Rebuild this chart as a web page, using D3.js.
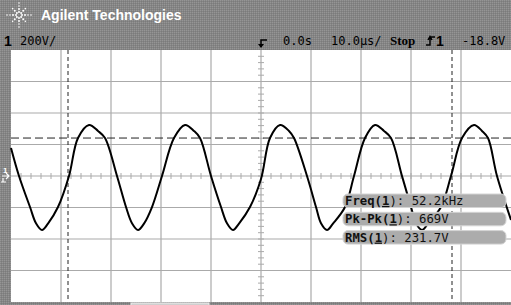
<!DOCTYPE html>
<html>
<head>
<meta charset="utf-8">
<script src="https://cdn.jsdelivr.net/npm/d3@7"></script>
<style>
body { margin: 0; background: #888; }
svg { display: block; }
.mono { font-family: "DejaVu Sans Mono", monospace; }
</style>
</head>
<body>
<div id="scope"></div>
<script>
// trace samples (time in us, volts)
const timeUs = [-50.0, -48.4, -46.2, -45.0, -43.8, -42.6, -40.6, -38.4, -36.6, -34.4, -32.6, -31.2, -28.8, -27.0, -25.8, -24.6, -23.4,
                -21.8, -19.8, -17.4, -15.2, -13.4, -12.2, -10.0, -8.0, -6.8, -5.6, -4.4,
                -2.2, 0.0, 1.8, 3.8, 5.6, 6.6, 9.2, 11.0, 12.0, 13.2, 14.4,
                16.8, 18.6, 20.8, 22.8, 24.6, 26.0, 28.2, 30.0, 31.0, 32.2, 33.4,
                36.0, 38.0, 40.2, 42.6, 44.2, 45.4, 47.2, 50.0];
const volts = [178, 0, -197, -300, -343, -302, -197, 0, 241, 324, 286, 241, 0, -197, -300, -343, -302,
               -197, 0, 241, 324, 286, 241, 0, -197, -300, -343, -302,
               -197, -19, 241, 324, 286, 241, 0, -197, -300, -343, -302,
               -197, 0, 241, 324, 286, 241, 0, -197, -300, -343, -302,
               -197, 0, 241, 324, 286, 241, 0, -279];

const gridTimes = [-40, -30, -20, -10, 10, 20, 30, 40];
const gridVolts = [-600, -400, -200, 200, 400, 600];
const cursorTimes = [-38.6, 38.2];
const cursorVolt = 241;

const measLabels = ["Freq", "Pk-Pk", "RMS"];
const measValues = ["52.2kHz", "669V", "231.7V"];

const chanScale = "200V/";
const timeDelay = "0.0s";
const timeScale = "10.0\u00b5s/";
const runState = "Stop";
const trigLevel = "-18.8V";

let W = 511, H = 305;
let plot = {left: 11, top: 50, width: 500, height: 252};

let svg = d3.select("#scope").append("svg")
    .attr("width", W)
    .attr("height", H);

// dithered grey bezel
let defs = svg.append("defs");
let pat = defs.append("pattern")
    .attr("id", "dither")
    .attr("width", 2).attr("height", 2)
    .attr("patternUnits", "userSpaceOnUse");
pat.append("rect").attr("width", 2).attr("height", 2).attr("fill", "#858585");
pat.append("rect").attr("width", 1).attr("height", 1).attr("fill", "#959595");
pat.append("rect").attr("x", 1).attr("y", 1).attr("width", 1).attr("height", 1).attr("fill", "#7b7b7b");

svg.append("rect").attr("width", W).attr("height", H).attr("fill", "url(#dither)");

// Agilent spark logo
let logo = svg.append("g").attr("transform", "translate(19,15)");
for (let a = 0; a < 8; a++) {
    let ang = a * Math.PI / 4;
    let n = (a % 2 == 0) ? [3, 6, 9, 12] : [3, 6, 9];
    n.forEach(function(r) {
        logo.append("circle")
            .attr("cx", r * Math.cos(ang))
            .attr("cy", r * Math.sin(ang))
            .attr("r", r > 8 ? 0.8 : 1)
            .attr("fill", "#fff");
    });
}

svg.append("text")
    .attr("x", 41).attr("y", 20)
    .attr("font-family", "Liberation Sans, Arial, sans-serif")
    .attr("font-weight", "bold")
    .attr("font-size", 14)
    .attr("fill", "#fff")
    .text("Agilent Technologies");

// status line
svg.append("text")
    .attr("x", 4).attr("y", 46)
    .attr("font-family", "Liberation Sans, Arial, sans-serif")
    .attr("font-weight", "bold").attr("font-size", 14)
    .text("1");
svg.append("text").attr("class", "mono")
    .attr("x", 20).attr("y", 45).attr("font-size", 12)
    .text(chanScale);
svg.append("text").attr("class", "mono")
    .attr("x", 283).attr("y", 45).attr("font-size", 12)
    .text(timeDelay);
svg.append("text").attr("class", "mono")
    .attr("x", 331).attr("y", 45).attr("font-size", 12)
    .text(timeScale);
svg.append("text")
    .attr("x", 390).attr("y", 45)
    .attr("font-family", "Liberation Serif, serif")
    .attr("font-weight", "bold").attr("font-size", 13)
    .text(runState);
svg.append("path")
    .attr("d", "M426,45H430V37H435M428,40L430,36.5L432,40")
    .attr("fill", "none").attr("stroke", "#000").attr("stroke-width", 1.5);
svg.append("text")
    .attr("x", 436).attr("y", 46)
    .attr("font-family", "Liberation Sans, Arial, sans-serif")
    .attr("font-weight", "bold").attr("font-size", 14)
    .text("1");
svg.append("text").attr("class", "mono")
    .attr("x", 462).attr("y", 45).attr("font-size", 12)
    .text(trigLevel);

// screen
let g = svg.append("g")
    .attr("transform", "translate(" + plot.left + "," + plot.top + ")");

let x = d3.scaleLinear().domain([-50, 50]).range([0, plot.width]);
let y = d3.scaleLinear().domain([-800, 800]).range([plot.height, 0]);

g.append("rect")
    .attr("width", plot.width).attr("height", plot.height)
    .attr("fill", "#fff");

g.selectAll(".vgrid")
    .data(gridTimes.concat([0]))
    .enter().append("line")
    .attr("class", "vgrid")
    .attr("x1", function(d) { return x(d); })
    .attr("x2", function(d) { return x(d); })
    .attr("y1", 0).attr("y2", plot.height)
    .attr("stroke", "#aaa").attr("stroke-width", 1.2);

g.selectAll(".hgrid")
    .data(gridVolts.concat([0]))
    .enter().append("line")
    .attr("class", "hgrid")
    .attr("y1", function(d) { return y(d); })
    .attr("y2", function(d) { return y(d); })
    .attr("x1", 0).attr("x2", plot.width)
    .attr("stroke", "#aaa").attr("stroke-width", 1.2);

// minor ticks on the centre axes
g.selectAll(".xtick")
    .data(d3.range(-48, 50, 2))
    .enter().append("line")
    .attr("x1", function(d) { return x(d); })
    .attr("x2", function(d) { return x(d); })
    .attr("y1", y(0) - 3).attr("y2", y(0) + 3)
    .attr("stroke", "#aaa");

g.selectAll(".ytick")
    .data(d3.range(-760, 800, 40))
    .enter().append("line")
    .attr("y1", function(d) { return y(d); })
    .attr("y2", function(d) { return y(d); })
    .attr("x1", x(0) - 3).attr("x2", x(0) + 3)
    .attr("stroke", "#aaa");

// cursors
g.selectAll(".tcursor")
    .data(cursorTimes)
    .enter().append("line")
    .attr("x1", function(d) { return x(d); })
    .attr("x2", function(d) { return x(d); })
    .attr("y1", 0).attr("y2", plot.height)
    .attr("stroke", "#222").attr("stroke-dasharray", "4,3");

g.append("line")
    .attr("x1", 0).attr("x2", plot.width)
    .attr("y1", y(cursorVolt)).attr("y2", y(cursorVolt))
    .attr("stroke", "#222").attr("stroke-dasharray", "8,4");

// the trace
let trace = d3.line()
    .x(function(d, i) { return x(timeUs[i]); })
    .y(function(d) { return y(d); })
    .curve(d3.curveCatmullRom.alpha(0.5));

g.append("path")
    .datum(volts)
    .attr("fill", "none")
    .attr("stroke", "#000")
    .attr("stroke-width", 2)
    .attr("stroke-linejoin", "round")
    .attr("d", trace);

// trigger position marker and ground marker
svg.append("path")
    .attr("d", "M" + (plot.left + x(0) + 6) + ",40H" + (plot.left + x(0)) + "V47")
    .attr("fill", "none").attr("stroke", "#000").attr("stroke-width", 1.5);
svg.append("path")
    .attr("d", "M" + (plot.left + x(0) - 3) + ",44L" + (plot.left + x(0)) + ",48L" + (plot.left + x(0) + 3) + ",44Z")
    .attr("fill", "#000");

let gy = plot.top + y(0);
svg.append("text")
    .attr("x", 3).attr("y", gy - 3)
    .attr("font-family", "Liberation Sans, Arial, sans-serif")
    .attr("font-weight", "bold").attr("font-size", 8)
    .attr("fill", "#fff")
    .text("1");
svg.append("path")
    .attr("d", "M2," + gy + "H9M6," + (gy - 3) + "L9," + gy + "L6," + (gy + 3) + "M3," + (gy + 2) + "V" + (gy + 6) + "M1," + (gy + 6) + "H6")
    .attr("fill", "none").attr("stroke", "#fff").attr("stroke-width", 1.2);

// softkey edge at the bottom
svg.append("rect")
    .attr("x", 131).attr("y", 303).attr("width", 78).attr("height", 4)
    .attr("fill", "#cfcfcf").attr("stroke", "#eee");

// measurement readouts
let meas = svg.selectAll(".meas")
    .data(measLabels)
    .enter().append("g")
    .attr("class", "meas")
    .attr("transform", function(d, i) { return "translate(343," + (194 + i * 18.3) + ")"; });

meas.append("rect")
    .attr("width", 163).attr("height", 13.5)
    .attr("rx", 5).attr("ry", 5)
    .attr("fill", "#acacac")
    .attr("stroke", "#d4d4d4").attr("stroke-width", 1);

meas.each(function(d, i) {
    let t = d3.select(this).append("text")
        .attr("class", "mono")
        .attr("x", 2).attr("y", 11)
        .attr("font-size", 12.3)
        .attr("fill", "#111");
    t.append("tspan").attr("font-weight", "bold").text(d + "(");
    t.append("tspan").attr("font-weight", "bold").attr("text-decoration", "underline").text("1");
    t.append("tspan").text("): " + measValues[i]);
});
</script>
</body>
</html>
